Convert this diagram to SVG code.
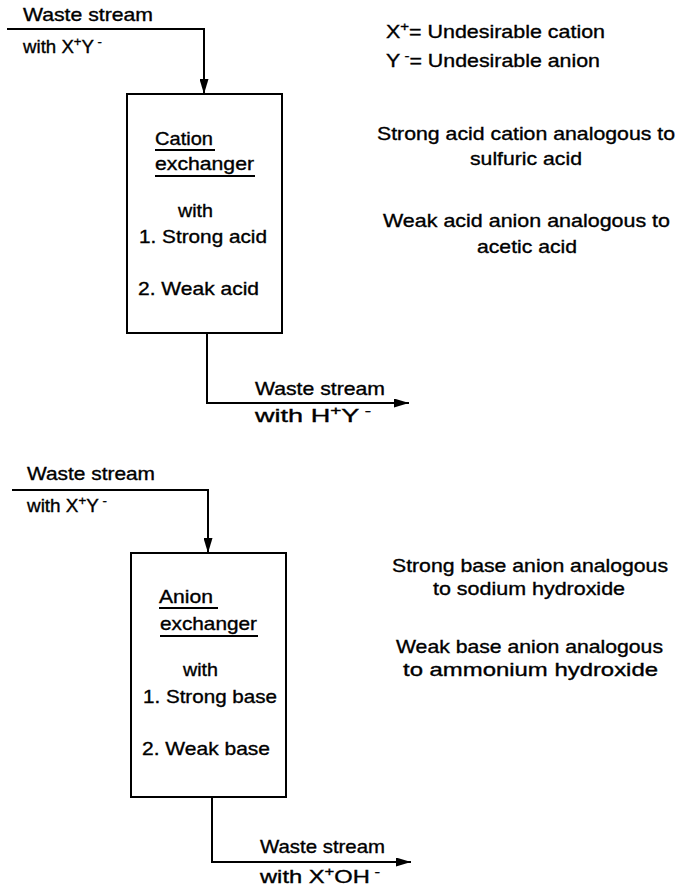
<svg xmlns="http://www.w3.org/2000/svg" width="679" height="887" viewBox="0 0 679 887">
<style>
text{font-family:"Liberation Sans",Arial,sans-serif;font-size:18.5px;fill:#000;stroke:#000;stroke-width:0.35}
.sup{font-size:13px}
.ln{fill:none;stroke:#000;stroke-width:2}
.box{fill:#fff;stroke:#000;stroke-width:2}
</style>
<defs>
<marker id="ah" viewBox="0 0 15 9" refX="15" refY="4.5" markerWidth="15" markerHeight="9" markerUnits="userSpaceOnUse" orient="auto">
<path d="M0,0 L15,4.5 L0,9 Z" fill="#000"/>
</marker>
</defs>
<rect width="679" height="887" fill="#fff"/>

<g id="connectors">
<polyline class="ln" points="7,29 204,29 204,94" marker-end="url(#ah)"/>
<polyline class="ln" points="207,333 207,403 409,403" marker-end="url(#ah)"/>
<polyline class="ln" points="12,490 208,490 208,553" marker-end="url(#ah)"/>
<polyline class="ln" points="212,797 212,862 411,862" marker-end="url(#ah)"/>
</g>

<g id="labels-flow">
<text x="23" y="21" textLength="130" lengthAdjust="spacingAndGlyphs">Waste stream</text>
<text x="23" y="53" textLength="79" lengthAdjust="spacingAndGlyphs">with X<tspan class="sup" dy="-7">+</tspan><tspan dy="7">Y</tspan><tspan class="sup" dy="-7"> -</tspan></text>
<text x="255" y="395" textLength="130" lengthAdjust="spacingAndGlyphs">Waste stream</text>
<text x="255" y="422" textLength="116" lengthAdjust="spacingAndGlyphs">with H<tspan class="sup" dy="-7">+</tspan><tspan dy="7">Y</tspan><tspan class="sup" dy="-7"> -</tspan></text>
<text x="27" y="480" textLength="128" lengthAdjust="spacingAndGlyphs">Waste stream</text>
<text x="27" y="512" textLength="80" lengthAdjust="spacingAndGlyphs">with X<tspan class="sup" dy="-7">+</tspan><tspan dy="7">Y</tspan><tspan class="sup" dy="-7"> -</tspan></text>
<text x="260" y="853" textLength="125" lengthAdjust="spacingAndGlyphs">Waste stream</text>
<text x="260" y="883" textLength="120" lengthAdjust="spacingAndGlyphs">with X<tspan class="sup" dy="-7">+</tspan><tspan dy="7">OH</tspan><tspan class="sup" dy="-7"> -</tspan></text>
</g>

<g id="cation-exchanger">
<rect class="box" x="127" y="94" width="155" height="239"/>
<text x="155" y="145" textLength="58" lengthAdjust="spacingAndGlyphs">Cation</text>
<line class="ln" x1="155" y1="150" x2="215" y2="150" stroke-width="1.6"/>
<text x="155" y="170" textLength="99" lengthAdjust="spacingAndGlyphs">exchanger</text>
<line class="ln" x1="155" y1="176" x2="255" y2="176" stroke-width="1.6"/>
<text x="178" y="217" textLength="35" lengthAdjust="spacingAndGlyphs">with</text>
<text x="139" y="243" textLength="128" lengthAdjust="spacingAndGlyphs">1. Strong acid</text>
<text x="138" y="295" textLength="121" lengthAdjust="spacingAndGlyphs">2. Weak acid</text>
</g>

<g id="anion-exchanger">
<rect class="box" x="131" y="553" width="155" height="244"/>
<text x="159" y="603" textLength="54" lengthAdjust="spacingAndGlyphs">Anion</text>
<line class="ln" x1="159" y1="608" x2="218" y2="608" stroke-width="1.6"/>
<text x="160" y="630" textLength="97" lengthAdjust="spacingAndGlyphs">exchanger</text>
<line class="ln" x1="160" y1="636" x2="258" y2="636" stroke-width="1.6"/>
<text x="183" y="676" textLength="35" lengthAdjust="spacingAndGlyphs">with</text>
<text x="143" y="703" textLength="134" lengthAdjust="spacingAndGlyphs">1. Strong base</text>
<text x="142" y="755" textLength="128" lengthAdjust="spacingAndGlyphs">2. Weak base</text>
</g>

<g id="notes">
<text x="386" y="38" textLength="219" lengthAdjust="spacingAndGlyphs">X<tspan class="sup" dy="-7">+</tspan><tspan dy="7">= Undesirable cation</tspan></text>
<text x="386" y="67" textLength="214" lengthAdjust="spacingAndGlyphs">Y<tspan class="sup" dy="-7"> -</tspan><tspan dy="7">= Undesirable anion</tspan></text>
<text x="377" y="140" textLength="298" lengthAdjust="spacingAndGlyphs">Strong acid cation analogous to</text>
<text x="470" y="165" textLength="112" lengthAdjust="spacingAndGlyphs">sulfuric acid</text>
<text x="383" y="227" textLength="287" lengthAdjust="spacingAndGlyphs">Weak acid anion analogous to</text>
<text x="477" y="253" textLength="100" lengthAdjust="spacingAndGlyphs">acetic acid</text>
<text x="392" y="572" textLength="276" lengthAdjust="spacingAndGlyphs">Strong base anion analogous</text>
<text x="433" y="595" textLength="192" lengthAdjust="spacingAndGlyphs">to sodium hydroxide</text>
<text x="396" y="653" textLength="267" lengthAdjust="spacingAndGlyphs">Weak base anion analogous</text>
<text x="403" y="676" textLength="255" lengthAdjust="spacingAndGlyphs">to ammonium hydroxide</text>
</g>
</svg>
